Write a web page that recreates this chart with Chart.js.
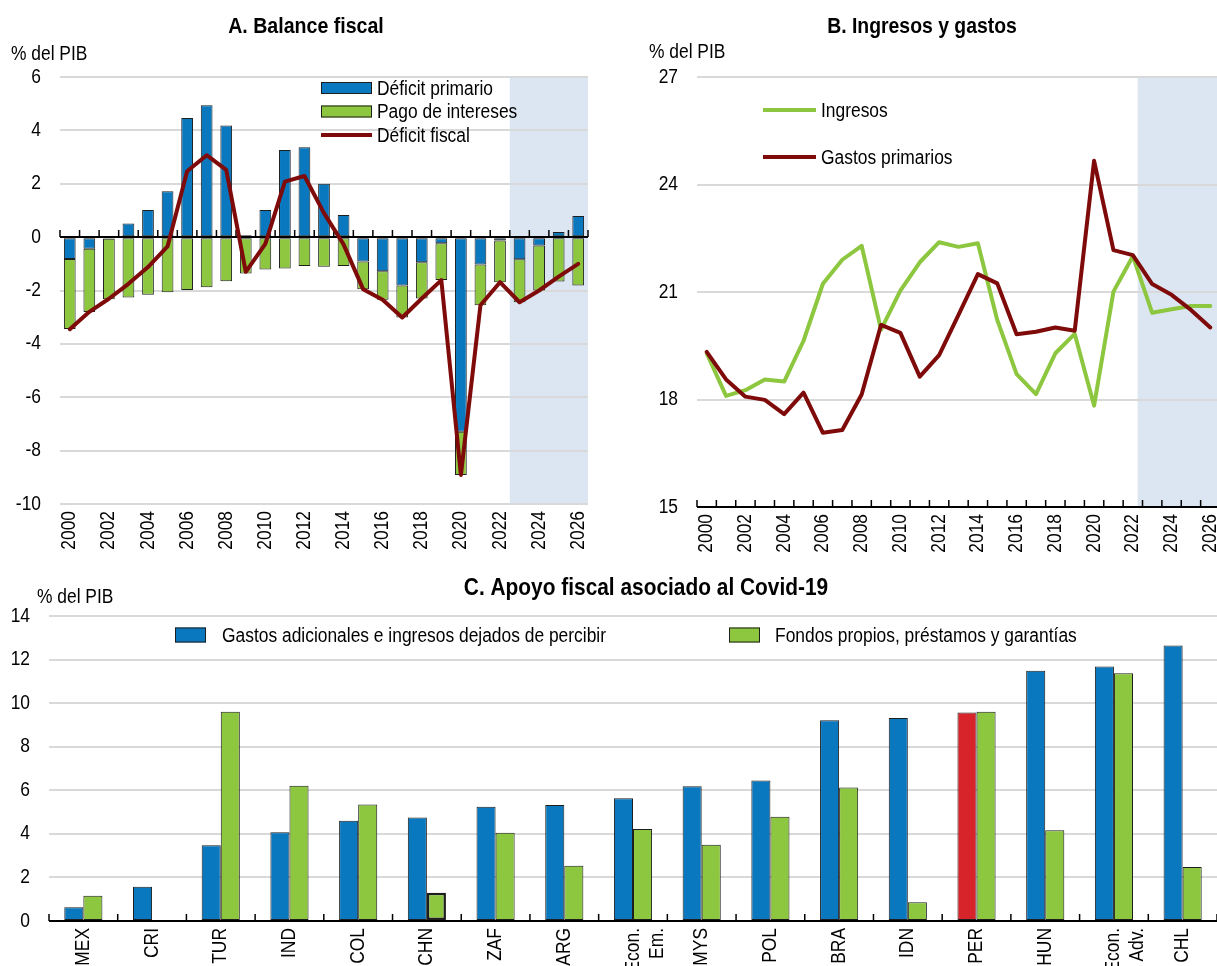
<!DOCTYPE html>
<html>
<head>
<meta charset="utf-8">
<script src="https://cdn.jsdelivr.net/npm/chart.js@4.4.1/dist/chart.umd.min.js"></script>
<style>
html, body { margin: 0; padding: 0; background: #fff; overflow: hidden; width: 1217px; height: 966px; }
canvas { position: absolute; }
#cA { left: 0; top: 0; }
#cB { left: 600px; top: 0; }
#cC { left: 0; top: 565px; }
</style>
</head>
<body>
<canvas id="cA" width="600" height="560"></canvas>
<canvas id="cB" width="632" height="560"></canvas>
<canvas id="cC" width="1230" height="401"></canvas>
<script>
// ---- datos ----
var years = ['2000', '2001', '2002', '2003', '2004', '2005', '2006', '2007', '2008', '2009',
    '2010', '2011', '2012', '2013', '2014', '2015', '2016', '2017', '2018', '2019',
    '2020', '2021', '2022', '2023', '2024', '2025', '2026']

/** A. Balance fiscal */
var deficitPrimario = [-0.82, -0.44, -0.06, 0.51, 1.02, 1.72, 4.46, 4.94, 4.18, 0.07,
    1.02, 3.26, 3.37, 2.00, 0.83, -0.91, -1.28, -1.81, -0.94, -0.23,
    -7.29, -1.03, -0.13, -0.83, -0.31, 0.19, 0.79]
var pagoIntereses = [-2.62, -2.37, -2.27, -2.26, -2.16, -2.07, -1.98, -1.88, -1.65, -1.36,
    -1.21, -1.18, -1.08, -1.11, -1.08, -1.04, -1.07, -1.20, -1.36, -1.38,
    -1.62, -1.52, -1.56, -1.61, -1.69, -1.66, -1.81]
var deficitFiscal = [-3.45, -2.80, -2.31, -1.75, -1.12, -0.35, 2.47, 3.07, 2.52, -1.30,
    -0.25, 2.08, 2.29, 0.90, -0.27, -1.95, -2.35, -3.01, -2.30, -1.61,
    -8.91, -2.55, -1.69, -2.44, -2.00, -1.48, -1.00]

/** B. Ingresos y gastos */
var ingresos = [19.29, 18.10, 18.26, 18.56, 18.50, 19.64, 21.23, 21.90, 22.29, 19.95,
    21.04, 21.83, 22.39, 22.26, 22.36, 20.22, 18.71, 18.15, 19.29, 19.83,
    17.83, 21.01, 22.00, 20.42, 20.52, 20.61, 20.61]
var gastosPrimarios = [19.33, 18.56, 18.08, 17.99, 17.59, 18.19, 17.07, 17.15, 18.14, 20.08,
    19.86, 18.64, 19.24, 20.36, 21.50, 21.24, 19.82, 19.89, 20.01, 19.92,
    24.66, 22.17, 22.03, 21.22, 20.92, 20.50, 20.01]

/** C. Apoyo fiscal asociado al Covid-19 */
var paises = ['MEX', 'CRI', 'TUR', 'IND', 'COL', 'CHN', 'ZAF', 'ARG', ['Econ.', 'Em.'], 'MYS',
    'POL', 'BRA', 'IDN', 'PER', 'HUN', ['Econ.', 'Adv.'], 'CHL']
var gastosAdicionales = [0.63, 1.57, 3.48, 4.07, 4.60, 4.75, 5.24, 5.32, 5.64, 6.19,
    6.45, 9.22, 9.32, 9.57, 11.49, 11.68, 12.65]
var fondosPropios = [1.16, null, 9.61, 6.21, 5.35, 1.30, 4.05, 2.54, 4.22, 3.50,
    4.78, 6.13, 0.86, 9.61, 4.17, 11.37, 2.48]

var yTicksA = [-10, 6, 2]   // min, max, paso
var yTicksB = [15, 27, 3]
var yTicksC = [0, 14, 2]

// ---- estilos ----
var FONT = "'Liberation Sans', Arial, sans-serif"
var BLUE = '#0a78be'
var GREEN = '#8dc63f'
var DARKRED = '#7e0a0a'
var RED = '#d7242a'
var GRID = '#d9d9d9'
var SHADE = '#dce6f2'
var EDGE = '#1e1e1e'

/** la fuente original es tipo "Arial Narrow": se estrecha el texto a lo largo de su dirección */
var CONDENSE = 0.87
var nativeFillText = CanvasRenderingContext2D.prototype.fillText
CanvasRenderingContext2D.prototype.fillText = function (text, x, y, maxWidth) {
    this.save()
    this.translate(x, y)
    this.scale(CONDENSE, 1)
    if (maxWidth !== undefined && maxWidth !== null) nativeFillText.call(this, text, 0, 0, maxWidth / CONDENSE)
    else nativeFillText.call(this, text, 0, 0)
    this.restore()
}

Chart.defaults.font.family = FONT
Chart.defaults.font.size = 20
Chart.defaults.color = '#000'
Chart.defaults.animation = false
Chart.defaults.responsive = false

/** fondo sombreado de proyecciones */
function drawShade(chart, fromIndex) {
    var a = chart.chartArea
    var x0 = chart.scales.x.getPixelForValue(fromIndex)
    var ctx = chart.ctx
    ctx.save()
    ctx.fillStyle = SHADE
    ctx.fillRect(x0, a.top, a.right - x0, a.bottom - a.top)
    ctx.restore()
}

/** eje horizontal negro con marcas hacia arriba */
function drawBaseAxis(chart, value) {
    var a = chart.chartArea
    var xs = chart.scales.x
    var y = Math.round(chart.scales.y.getPixelForValue(value))
    var ctx = chart.ctx
    ctx.save()
    ctx.strokeStyle = '#000'
    ctx.lineWidth = 2
    ctx.beginPath()
    ctx.moveTo(a.left, y)
    ctx.lineTo(a.right, y)
    ctx.stroke()
    ctx.lineWidth = 1.5
    for (var i = 0; i <= xs.getLabels().length; i++) {
        var x = xs.getPixelForValue(i - 0.5)
        ctx.beginPath()
        ctx.moveTo(x, y)
        ctx.lineTo(x, y - 7)
        ctx.stroke()
    }
    ctx.restore()
}

function drawTexts(chart, cfg) {
    var ctx = chart.ctx
    ctx.save()
    ctx.fillStyle = '#000'
    ctx.textBaseline = 'alphabetic'
    ctx.font = 'bold ' + cfg.title[3] + 'px ' + FONT
    ctx.textAlign = 'center'
    ctx.fillText(cfg.title[0], cfg.title[1], cfg.title[2])
    ctx.font = '20px ' + FONT
    ctx.textAlign = 'left'
    ctx.fillText('% del PIB', cfg.unit[0], cfg.unit[1])
    ctx.textBaseline = 'middle'
    cfg.legend.forEach(function (it) {
        var ds = chart.data.datasets[it.ds]
        if (it.kind === 'box') {
            ctx.fillStyle = it.color
            ctx.fillRect(it.x, it.y - it.h / 2, it.w, it.h)
            ctx.strokeStyle = EDGE
            ctx.lineWidth = 1
            ctx.strokeRect(it.x + 0.5, it.y - it.h / 2 + 0.5, it.w - 1, it.h - 1)
        } else {
            ctx.strokeStyle = it.color
            ctx.lineWidth = 4
            ctx.beginPath()
            ctx.moveTo(it.x, it.y)
            ctx.lineTo(it.x + it.w, it.y)
            ctx.stroke()
        }
        ctx.fillStyle = '#000'
        ctx.fillText(ds.label, it.tx, it.y + 1)
    })
    ctx.restore()
}

function decoPlugin(cfg) {
    return {
        id: 'deco',
        beforeDraw: function (chart) {
            if (cfg.shadeFrom != null) drawShade(chart, cfg.shadeFrom)
        },
        beforeDatasetDraw: function (chart, args) {
            if (cfg.axisBefore === args.index) drawBaseAxis(chart, cfg.axisValue)
        },
        afterDatasetsDraw: function (chart) {
            if (cfg.axisBefore == null) drawBaseAxis(chart, cfg.axisValue)
        },
        afterDraw: function (chart) {
            drawTexts(chart, cfg)
        }
    }
}

function yScale(t, width, axisValue) {
    return {
        min: t[0], max: t[1],
        ticks: { stepSize: t[2], padding: 19 },
        grid: {
            lineWidth: 2, drawTicks: false,
            color: function (c) { return c.tick.value === axisValue ? 'rgba(0,0,0,0)' : GRID }
        },
        border: { display: false },
        afterFit: function (s) { s.width = width; s.paddingTop = 0; s.paddingBottom = 0 }
    }
}

function xScale(height, labels, everyOther) {
    return {
        grid: { display: false, drawTicks: false },
        border: { display: false },
        ticks: {
            autoSkip: false, minRotation: 90, maxRotation: 90, padding: 7,
            callback: function (v, i) { return (everyOther && i % 2) ? '' : labels[i] }
        },
        afterFit: function (s) { s.height = height; s.paddingLeft = 0; s.paddingRight = 0 }
    }
}

var lineStyle = { borderWidth: 4, pointRadius: 0, tension: 0, borderJoinStyle: 'round', borderCapStyle: 'round' }

// ---- A. Balance fiscal ----
var xA = xScale(56, years, true)
xA.stacked = true
var yA = yScale(yTicksA, 60, 0)
yA.stacked = true
new Chart(document.getElementById('cA'), {
    type: 'bar',
    data: {
        labels: years,
        datasets: [
            Object.assign({ type: 'line', label: 'Déficit fiscal', data: deficitFiscal, borderColor: DARKRED,
                order: 0, stack: 'linea' }, lineStyle),
            { label: 'Déficit primario', data: deficitPrimario, backgroundColor: BLUE, borderColor: EDGE,
                borderWidth: 1, borderSkipped: false, order: 1, stack: 'barras' },
            { label: 'Pago de intereses', data: pagoIntereses, backgroundColor: GREEN, borderColor: EDGE,
                borderWidth: 1, borderSkipped: false, order: 2, stack: 'barras' }
        ]
    },
    options: {
        layout: { padding: { top: 77, right: 12, left: 0, bottom: 0 } },
        plugins: { legend: { display: false }, tooltip: { enabled: false } },
        datasets: { bar: { categoryPercentage: 0.6, barPercentage: 1 } },
        scales: { x: xA, y: yA }
    },
    plugins: [decoPlugin({
        shadeFrom: 22.5, axisValue: 0, axisBefore: 0,
        title: ['A. Balance fiscal', 306, 33, 22.5],
        unit: [11, 60],
        legend: [
            { ds: 1, kind: 'box', color: BLUE, x: 321, y: 88, w: 51, h: 12, tx: 377 },
            { ds: 2, kind: 'box', color: GREEN, x: 321, y: 111.5, w: 51, h: 12, tx: 377 },
            { ds: 0, kind: 'line', color: DARKRED, x: 321, y: 135, w: 51, tx: 377 }
        ]
    })]
})

// ---- B. Ingresos y gastos ----
new Chart(document.getElementById('cB'), {
    type: 'line',
    data: {
        labels: years,
        datasets: [
            Object.assign({ label: 'Ingresos', data: ingresos, borderColor: GREEN, order: 1 }, lineStyle),
            Object.assign({ label: 'Gastos primarios', data: gastosPrimarios, borderColor: DARKRED, order: 0 }, lineStyle)
        ]
    },
    options: {
        layout: { padding: { top: 77, right: 12, left: 0, bottom: 0 } },
        plugins: { legend: { display: false }, tooltip: { enabled: false } },
        scales: { x: Object.assign(xScale(53, years, true), { offset: true }), y: yScale(yTicksB, 97, 15) }
    },
    plugins: [decoPlugin({
        shadeFrom: 22.25, axisValue: 15,
        title: ['B. Ingresos y gastos', 322, 33, 22.3],
        unit: [49, 58],
        legend: [
            { ds: 0, kind: 'line', color: GREEN, x: 163, y: 110, w: 53, tx: 221 },
            { ds: 1, kind: 'line', color: DARKRED, x: 163, y: 157, w: 53, tx: 221 }
        ]
    })]
})

// ---- C. Apoyo fiscal asociado al Covid-19 ----
new Chart(document.getElementById('cC'), {
    type: 'bar',
    data: {
        labels: paises,
        datasets: [
            { label: 'Gastos adicionales e ingresos dejados de percibir', data: gastosAdicionales,
                borderColor: EDGE, borderWidth: 1, borderSkipped: false,
                // Perú resaltado en rojo
                backgroundColor: function (c) { return paises[c.dataIndex] === 'PER' ? RED : BLUE } },
            { label: 'Fondos propios, préstamos y garantías', data: fondosPropios,
                backgroundColor: GREEN, borderColor: EDGE, borderSkipped: false,
                borderWidth: function (c) { return paises[c.dataIndex] === 'CHN' ? 2.5 : 1 } }
        ]
    },
    options: {
        layout: { padding: { top: 51, right: 13, left: 0, bottom: 0 } },
        plugins: { legend: { display: false }, tooltip: { enabled: false } },
        datasets: { bar: { categoryPercentage: 0.555, barPercentage: 1 } },
        scales: { x: xScale(45, paises, false), y: yScale(yTicksC, 49, 0) }
    },
    plugins: [decoPlugin({
        axisValue: 0,
        title: ['C. Apoyo fiscal asociado al Covid-19', 646, 30, 24],
        unit: [37, 38],
        legend: [
            { ds: 0, kind: 'box', color: BLUE, x: 175, y: 70, w: 31, h: 15, tx: 222 },
            { ds: 1, kind: 'box', color: GREEN, x: 729, y: 70, w: 31, h: 15, tx: 775 }
        ]
    })]
})
</script>
</body>
</html>
